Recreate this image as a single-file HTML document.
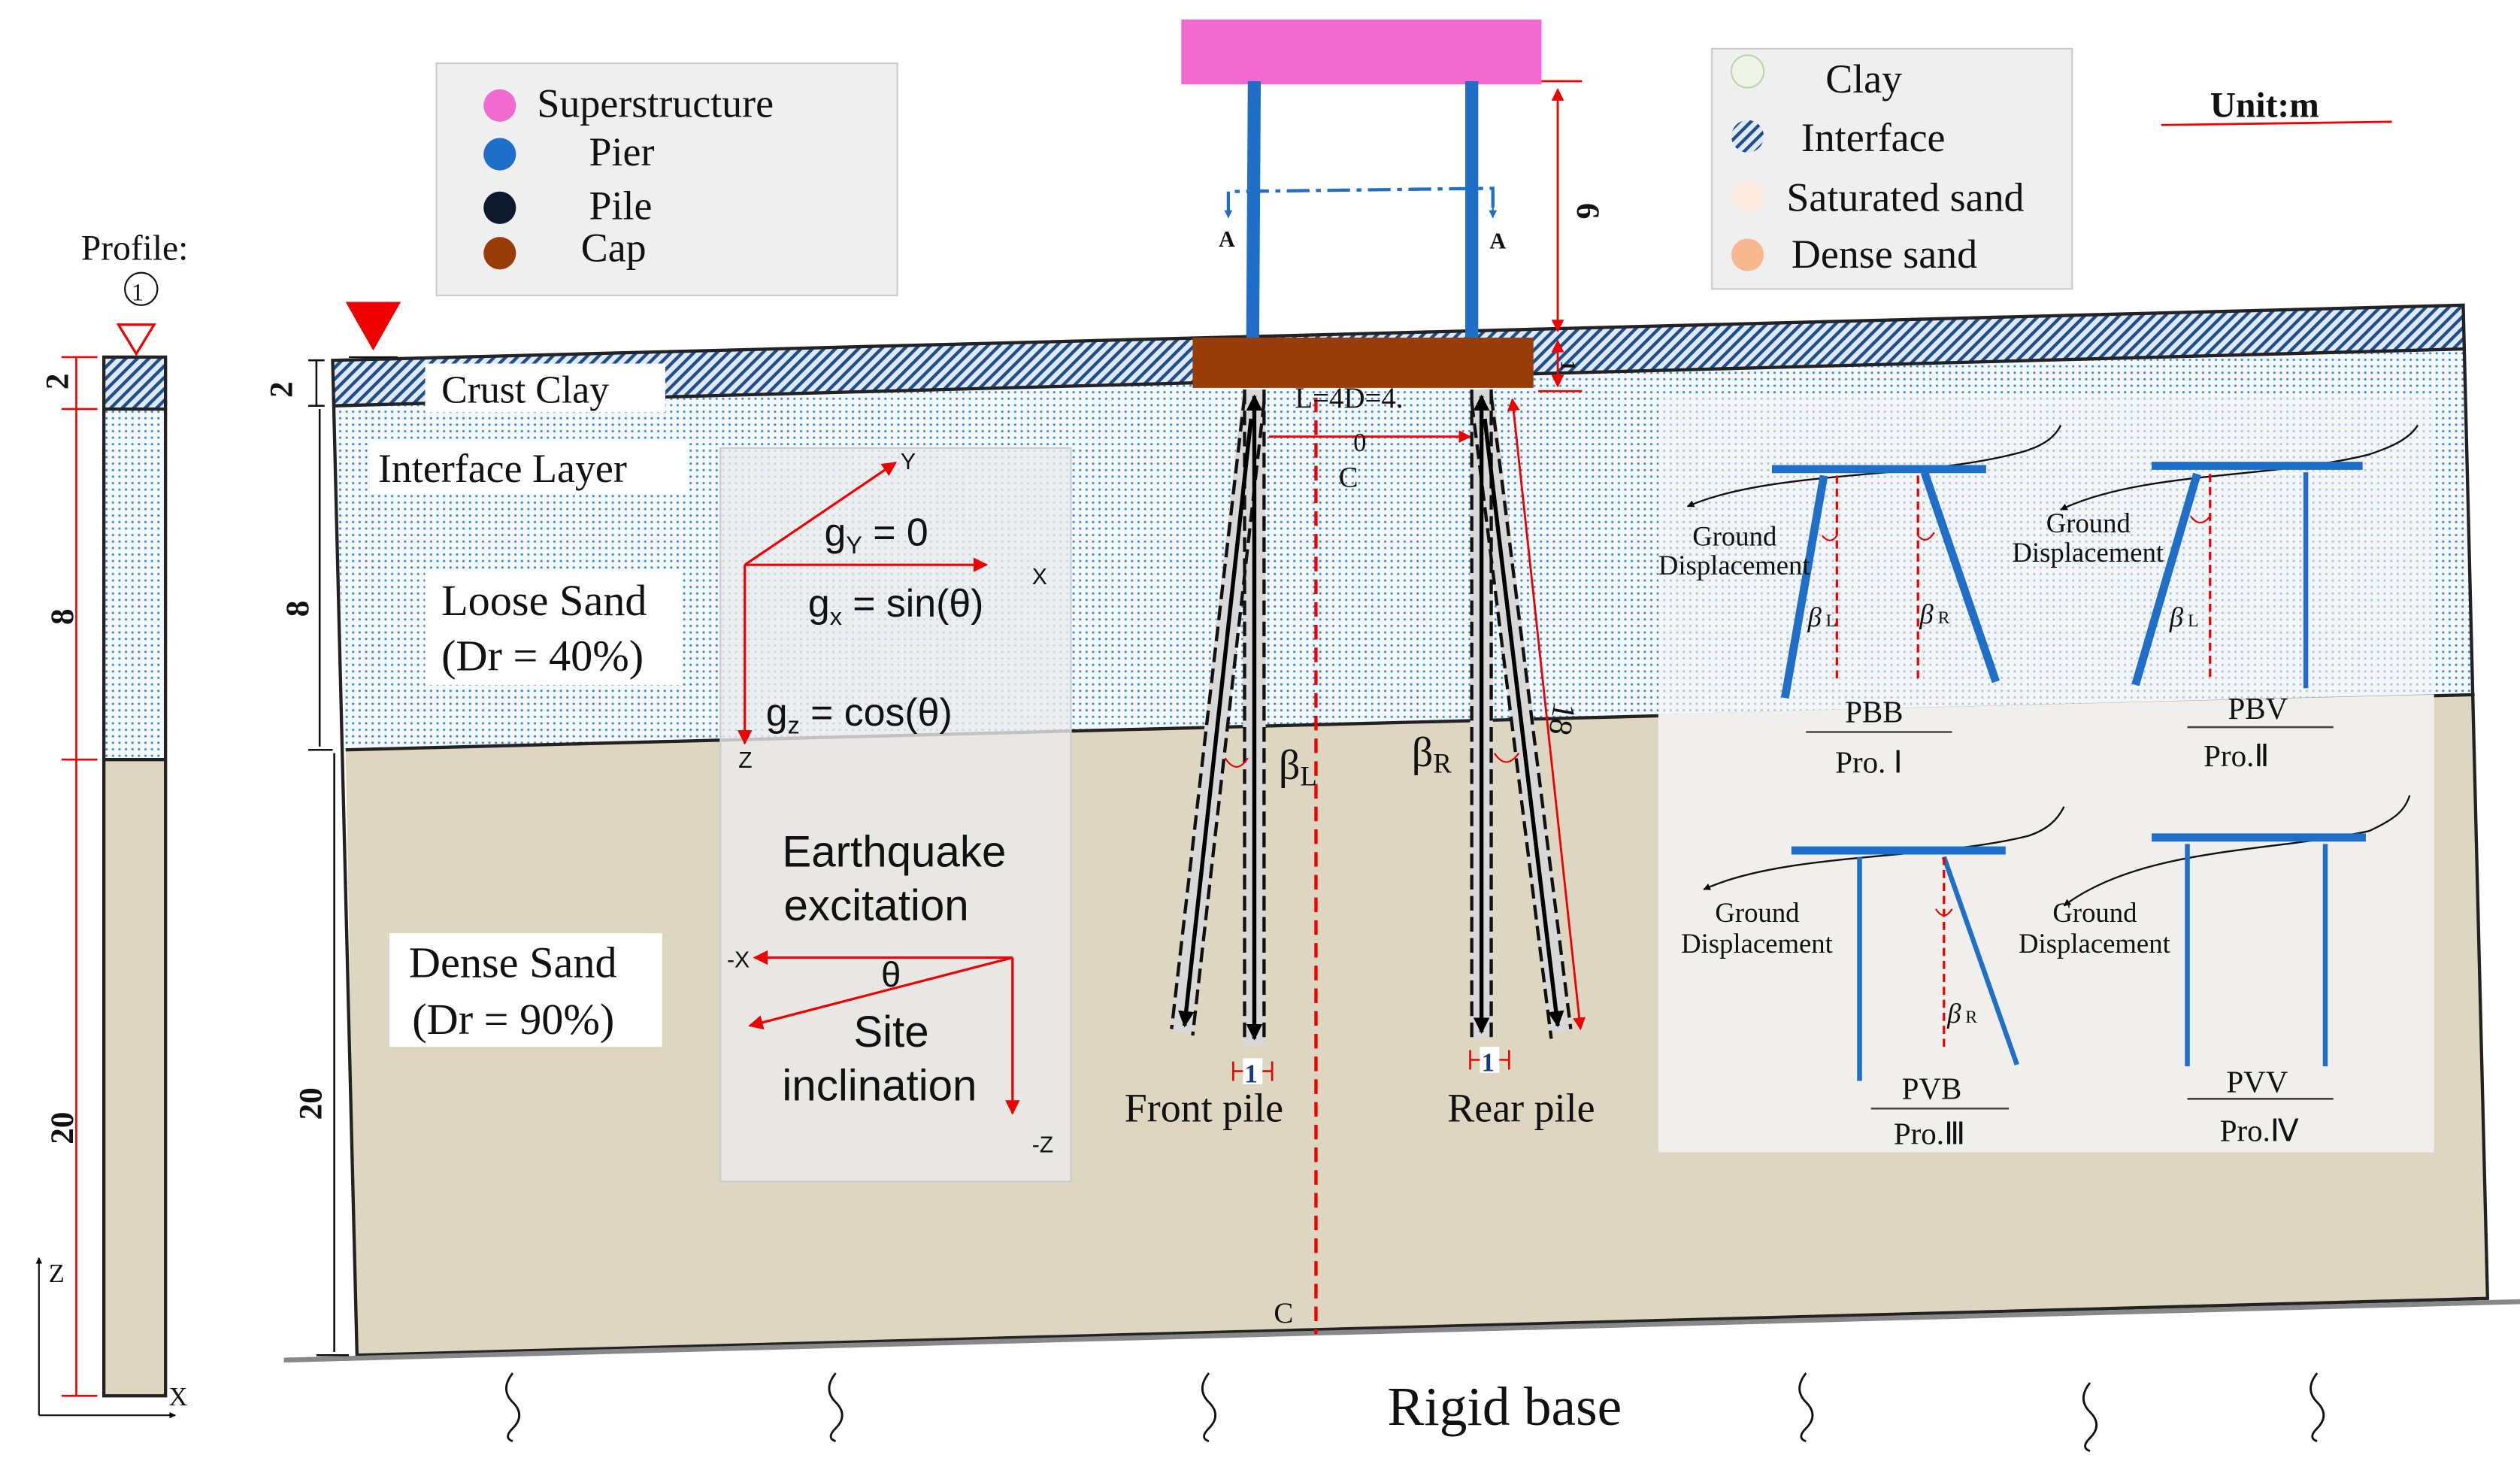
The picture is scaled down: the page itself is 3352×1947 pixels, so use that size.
<!DOCTYPE html>
<html><head><meta charset="utf-8"><style>
html,body{margin:0;padding:0;background:#fff}
svg{display:block}
text{font-family:"Liberation Serif",serif;fill:#111}
.s{font-family:"Liberation Sans",sans-serif}
</style></head><body>
<svg width="3352" height="1947" viewBox="0 0 1553 902" xmlns="http://www.w3.org/2000/svg">
<defs>
<pattern id="dots" width="4" height="4" patternUnits="userSpaceOnUse"><rect width="4" height="4" fill="#f4f9fd"/><rect x="1" y="1" width="1.3" height="1.3" fill="#3d86c8"/></pattern>
<pattern id="hatch" width="5" height="5" patternUnits="userSpaceOnUse" patternTransform="rotate(45)"><rect width="5" height="5" fill="#dfe8f3"/><rect width="2" height="5" fill="#1d4f8c"/></pattern>
<marker id="ar" viewBox="0 0 10 10" refX="9" refY="5" markerWidth="6" markerHeight="6" orient="auto-start-reverse"><path d="M0,0L10,5L0,10z" fill="#e00"/></marker>
<marker id="ab" viewBox="0 0 10 10" refX="9" refY="5" markerWidth="4" markerHeight="4" orient="auto-start-reverse"><path d="M0,0L10,5L0,10z" fill="#000"/></marker>
<marker id="abl" viewBox="0 0 10 10" refX="9" refY="5" markerWidth="5" markerHeight="5" orient="auto"><path d="M0,0L10,5L0,10z" fill="#1f6fc8"/></marker>
</defs>

<!-- soil block -->
<polygon points="213,462 1525,428 1533,800 220,835" fill="#ddd6c0"/>
<polygon points="206,250 1518,215 1525,428 213,462" fill="url(#dots)"/>
<polygon points="205,222 1518,188 1518,215 206,250" fill="url(#hatch)"/>
<line x1="206" y1="250" x2="1518" y2="215" stroke="#222" stroke-width="2"/>
<line x1="213" y1="462" x2="1525" y2="428" stroke="#222" stroke-width="2"/>
<polygon points="205,222 1518,188 1533,800 220,835" fill="none" stroke="#222" stroke-width="2"/>
<line x1="175" y1="838" x2="1553" y2="802" stroke="#888" stroke-width="3"/>

<!-- profile column -->
<rect x="64" y="252" width="38" height="216" fill="url(#dots)"/>
<rect x="64" y="220" width="38" height="32" fill="url(#hatch)"/>
<rect x="64" y="468" width="38" height="392" fill="#ddd6c0"/>
<rect x="64" y="220" width="38" height="640" fill="none" stroke="#222" stroke-width="2"/>
<line x1="64" y1="252" x2="102" y2="252" stroke="#222" stroke-width="2"/>
<line x1="64" y1="468" x2="102" y2="468" stroke="#222" stroke-width="2"/>
<polygon points="73,200 95,200 84,218" fill="none" stroke="#e00" stroke-width="1.5"/>
<text x="50" y="160" font-size="22">Profile:</text>
<circle cx="87" cy="178" r="10" fill="none" stroke="#111"/><text x="81" y="185" font-size="15">1</text>
<g stroke="#e00" stroke-width="1.2">
<line x1="47" y1="220" x2="47" y2="860"/>
<line x1="38" y1="220" x2="60" y2="220"/><line x1="38" y1="252" x2="60" y2="252"/><line x1="38" y1="468" x2="60" y2="468"/><line x1="38" y1="860" x2="60" y2="860"/>
</g>
<text transform="translate(42,240) rotate(-90)" font-size="20" font-weight="bold">2</text>
<text transform="translate(45,385) rotate(-90)" font-size="20" font-weight="bold">8</text>
<text transform="translate(45,705) rotate(-90)" font-size="20" font-weight="bold">20</text>
<line x1="24" y1="872" x2="24" y2="775" stroke="#111" marker-end="url(#ab)"/>
<line x1="24" y1="872" x2="108" y2="872" stroke="#111" marker-end="url(#ab)"/>
<text x="30" y="790" font-size="16">Z</text><text x="104" y="866" font-size="16">X</text>

<!-- left dims main -->
<polygon points="213,186 247,186 230,216" fill="#e00"/>
<line x1="215" y1="220" x2="245" y2="220" stroke="#111"/>
<g stroke="#111" stroke-width="1.2">
<line x1="190" y1="222" x2="200" y2="222"/><line x1="190" y1="250" x2="200" y2="250"/><line x1="190" y1="462" x2="205" y2="462"/><line x1="195" y1="835" x2="215" y2="835"/>
<line x1="195" y1="222" x2="195" y2="250"/><line x1="197" y1="252" x2="197" y2="460"/><line x1="206" y1="464" x2="206" y2="833"/>
</g>
<text transform="translate(180,245) rotate(-90)" font-size="20" font-weight="bold">2</text>
<text transform="translate(190,380) rotate(-90)" font-size="20" font-weight="bold">8</text>
<text transform="translate(198,690) rotate(-90)" font-size="20" font-weight="bold">20</text>

<!-- labels on soil -->
<rect x="262" y="224" width="148" height="30" fill="#fff"/>
<text x="272" y="248" font-size="24">Crust  Clay</text>
<rect x="228" y="272" width="196" height="32" fill="#fff"/>
<text x="233" y="297" font-size="25">Interface Layer</text>
<rect x="262" y="352" width="158" height="70" fill="#fff"/>
<text x="272" y="379" font-size="27">Loose Sand</text>
<text x="272" y="413" font-size="27">(Dr = 40%)</text>
<rect x="240" y="575" width="168" height="70" fill="#fff"/>
<text x="252" y="602" font-size="27">Dense Sand</text>
<text x="254" y="637" font-size="27">(Dr = 90%)</text>

<!-- excitation box -->
<rect x="444" y="276" width="216" height="452" fill="#ebebeb" fill-opacity="0.8" stroke="#ccc"/>
<g stroke="#e00" stroke-width="1.5">
<line x1="459" y1="348" x2="552" y2="285" marker-end="url(#ar)"/>
<line x1="459" y1="348" x2="608" y2="348" marker-end="url(#ar)"/>
<line x1="459" y1="348" x2="459" y2="458" marker-end="url(#ar)"/>
<line x1="624" y1="590" x2="465" y2="590" marker-end="url(#ar)"/>
<line x1="624" y1="590" x2="462" y2="632" marker-end="url(#ar)"/>
<line x1="624" y1="590" x2="624" y2="686" marker-end="url(#ar)"/>
</g>
<text class="s" x="555" y="289" font-size="14">Y</text>
<text class="s" x="636" y="360" font-size="14">X</text>
<text class="s" x="455" y="473" font-size="14">Z</text>
<text class="s" x="508" y="336" font-size="24">g<tspan font-size="15" dy="5">Y</tspan><tspan dy="-5"> = 0</tspan></text>
<text class="s" x="498" y="380" font-size="24">g<tspan font-size="15" dy="5">x</tspan><tspan dy="-5"> = sin(θ)</tspan></text>
<text class="s" x="472" y="447" font-size="24">g<tspan font-size="15" dy="5">z</tspan><tspan dy="-5"> = cos(θ)</tspan></text>
<text class="s" x="482" y="534" font-size="27">Earthquake</text>
<text class="s" x="483" y="567" font-size="27">excitation</text>
<text class="s" x="448" y="596" font-size="14">-X</text>
<text class="s" x="543" y="608" font-size="22">θ</text>
<text class="s" x="526" y="645" font-size="27">Site</text>
<text class="s" x="482" y="678" font-size="27">inclination</text>
<text class="s" x="636" y="710" font-size="14">-Z</text>

<!-- superstructure -->
<rect x="728" y="12" width="222" height="40" fill="#f06ad0"/>
<line x1="773" y1="50" x2="772" y2="208" stroke="#1f6fc8" stroke-width="8"/>
<line x1="907" y1="50" x2="907" y2="208" stroke="#1f6fc8" stroke-width="8"/>
<path d="M757,132 L757,118 L920,116 L920,132" fill="none" stroke="#1f6fc8" stroke-width="2" stroke-dasharray="14,4,3,4"/>
<line x1="757" y1="122" x2="757" y2="134" stroke="#1f6fc8" marker-end="url(#abl)"/>
<line x1="920" y1="122" x2="920" y2="134" stroke="#1f6fc8" marker-end="url(#abl)"/>
<text x="751" y="152" font-size="14" font-weight="bold">A</text>
<text x="918" y="153" font-size="14" font-weight="bold">A</text>
<rect x="735" y="208" width="210" height="31" fill="#983c08"/>
<g stroke="#e00" stroke-width="1.3">
<line x1="950" y1="50" x2="975" y2="50"/>
<line x1="960" y1="55" x2="960" y2="204" marker-start="url(#ar)" marker-end="url(#ar)"/>
<line x1="960" y1="210" x2="960" y2="238" marker-start="url(#ar)" marker-end="url(#ar)"/>
<line x1="948" y1="241" x2="975" y2="241"/>
<line x1="932" y1="246" x2="974" y2="634" marker-start="url(#ar)" marker-end="url(#ar)"/>
<line x1="782" y1="269" x2="906" y2="269" marker-end="url(#ar)"/>
<line x1="811" y1="245" x2="811" y2="822" stroke-dasharray="9,5" stroke-width="2"/>
</g>
<text transform="translate(972,125) rotate(90)" font-size="20" font-weight="bold">6</text>
<text transform="translate(962,222) rotate(90)" font-size="13" font-weight="bold">1</text>
<text transform="translate(958,432) rotate(100)" font-size="20">18</text>
<text x="798" y="251" font-size="18">L=4D=4.</text>
<text x="834" y="278" font-size="16">0</text>
<text x="825" y="300" font-size="18">C</text>
<text x="785" y="815" font-size="18">C</text>

<!-- piles -->
<g>
<g stroke-linecap="butt">
<line x1="773" y1="240" x2="773" y2="644" stroke="#d8d8d8" stroke-width="14"/>
<line x1="773" y1="240" x2="728" y2="636" stroke="#d8d8d8" stroke-width="14"/>
<line x1="913" y1="240" x2="913" y2="640" stroke="#d8d8d8" stroke-width="14"/>
<line x1="913" y1="240" x2="962" y2="636" stroke="#d8d8d8" stroke-width="14"/>
</g>
<g stroke="#111" stroke-width="2" stroke-dasharray="9,4" fill="none">
<line x1="767" y1="240" x2="767" y2="642"/><line x1="779" y1="240" x2="779" y2="642"/>
<line x1="767" y1="244" x2="722" y2="634"/><line x1="779" y1="248" x2="735" y2="638"/>
<line x1="907" y1="240" x2="907" y2="640"/><line x1="919" y1="240" x2="919" y2="640"/>
<line x1="907" y1="248" x2="956" y2="640"/><line x1="919" y1="244" x2="968" y2="634"/>
</g>
<g stroke="#000" stroke-width="2.5">
<line x1="773" y1="244" x2="773" y2="640" marker-start="url(#ab)" marker-end="url(#ab)"/>
<line x1="771" y1="258" x2="730" y2="632" marker-end="url(#ab)"/>
<line x1="913" y1="244" x2="913" y2="636" marker-start="url(#ab)" marker-end="url(#ab)"/>
<line x1="915" y1="258" x2="960" y2="632" marker-end="url(#ab)"/>
</g>
<path d="M755,467 Q762,478 769,467" fill="none" stroke="#e00"/>
<path d="M921,464 Q928,475 936,464" fill="none" stroke="#e00"/>
<text x="788" y="480" font-size="26">β<tspan font-size="17" dy="4">L</tspan></text>
<text x="870" y="472" font-size="26">β<tspan font-size="17" dy="4">R</tspan></text>
<g stroke="#e00" stroke-width="1.2"><line x1="760" y1="660" x2="784" y2="660"/><line x1="760" y1="654" x2="760" y2="666"/><line x1="784" y1="654" x2="784" y2="666"/>
<line x1="906" y1="653" x2="930" y2="653"/><line x1="906" y1="647" x2="906" y2="659"/><line x1="930" y1="647" x2="930" y2="659"/></g>
<rect x="766" y="652" width="12" height="16" fill="#fff"/><text x="767" y="667" font-size="16" font-weight="bold" style="fill:#1a3a80">1</text>
<rect x="912" y="645" width="12" height="16" fill="#fff"/><text x="913" y="660" font-size="16" font-weight="bold" style="fill:#1a3a80">1</text>
<text x="693" y="691" font-size="25">Front pile</text>
<text x="892" y="691" font-size="25">Rear pile</text>
</g>

<!-- legends -->
<rect x="269" y="39" width="284" height="143" fill="#efefef" stroke="#ccc"/>
<circle cx="308" cy="65" r="10" fill="#f06ad0"/><text x="331" y="72" font-size="25">Superstructure</text>
<circle cx="308" cy="95" r="10" fill="#1f6fc8"/><text x="363" y="102" font-size="25">Pier</text>
<circle cx="308" cy="128" r="10" fill="#0d1a2e"/><text x="363" y="135" font-size="25">Pile</text>
<circle cx="308" cy="156" r="10" fill="#983c08"/><text x="358" y="161" font-size="25">Cap</text>
<rect x="1055" y="30" width="222" height="148" fill="#efefef" stroke="#ccc"/>
<circle cx="1077" cy="44" r="10" fill="#eef5e8" stroke="#b8d8a8"/><text x="1125" y="57" font-size="25">Clay</text>
<circle cx="1077" cy="84" r="10" fill="url(#hatch)"/><text x="1110" y="93" font-size="25">Interface</text>
<circle cx="1077" cy="121" r="10" fill="#fdebe0"/><text x="1101" y="130" font-size="25">Saturated sand</text>
<circle cx="1077" cy="157" r="10" fill="#f7b890"/><text x="1104" y="165" font-size="25">Dense sand</text>
<text x="1362" y="72" font-size="22" font-weight="bold">Unit:m</text>
<line x1="1332" y1="77" x2="1474" y2="75" stroke="#e00" stroke-width="1.3"/>

<!-- inset -->
<polygon points="1022,245 1500,245 1500,710 1022,710" fill="#f1f1f1" fill-opacity="0.6"/>
<polygon points="1022,440 1500,428 1500,710 1022,710" fill="#f0efec"/>
<g fill="none" stroke="#111" stroke-width="1.1">
<path d="M1040,312 C1090,290 1180,295 1240,280 C1258,276 1266,270 1270,262" marker-start="url(#ab)"/>
<path d="M1270,314 C1320,290 1400,295 1460,280 C1475,275 1485,270 1490,262" marker-start="url(#ab)"/>
<path d="M1050,548 C1100,525 1190,530 1250,515 C1262,511 1268,505 1272,497" marker-start="url(#ab)"/>
<path d="M1272,558 C1320,522 1400,525 1460,512 C1475,505 1482,500 1485,490" marker-start="url(#ab)"/>
</g>
<g stroke="#1f6fc8" stroke-width="5">
<line x1="1092" y1="289" x2="1224" y2="289"/>
<line x1="1124" y1="293" x2="1100" y2="430"/><line x1="1186" y1="291" x2="1230" y2="420"/>
<line x1="1326" y1="287" x2="1456" y2="287"/>
<line x1="1354" y1="292" x2="1316" y2="422"/>
<line x1="1104" y1="524" x2="1236" y2="524"/>
<line x1="1326" y1="516" x2="1458" y2="516"/>
</g>
<g stroke="#1f6fc8" stroke-width="3">
<line x1="1421" y1="291" x2="1421" y2="424"/>
<line x1="1146" y1="528" x2="1146" y2="666"/><line x1="1198" y1="528" x2="1243" y2="656"/>
<line x1="1348" y1="520" x2="1348" y2="657"/><line x1="1433" y1="520" x2="1433" y2="657"/>
</g>
<g stroke="#e00" stroke-width="1.5" stroke-dasharray="5,3" fill="none">
<line x1="1132" y1="293" x2="1132" y2="420"/><line x1="1182" y1="293" x2="1182" y2="418"/>
<line x1="1362" y1="292" x2="1362" y2="418"/><line x1="1198" y1="528" x2="1198" y2="648"/>
</g>
<g stroke="#e00" fill="none" stroke-width="1">
<path d="M1123,330 Q1128,336 1132,330"/><path d="M1182,330 Q1187,336 1192,328"/><path d="M1350,318 Q1356,326 1362,318"/><path d="M1193,560 Q1198,568 1203,560"/>
</g>
<g font-size="17">
<text x="1043" y="336">Ground</text><text x="1022" y="354">Displacement</text>
<text x="1261" y="328">Ground</text><text x="1240" y="346">Displacement</text>
<text x="1057" y="568">Ground</text><text x="1036" y="587">Displacement</text>
<text x="1265" y="568">Ground</text><text x="1244" y="587">Displacement</text>
<text x="1114" y="386" font-style="italic">β<tspan font-size="11" font-style="normal"> L</tspan></text>
<text x="1183" y="384" font-style="italic">β<tspan font-size="11" font-style="normal"> R</tspan></text>
<text x="1337" y="386" font-style="italic">β<tspan font-size="11" font-style="normal"> L</tspan></text>
<text x="1200" y="630" font-style="italic">β<tspan font-size="11" font-style="normal"> R</tspan></text>
</g>
<g font-size="19">
<text x="1137" y="445">PBB</text><text x="1131" y="476">Pro. Ⅰ</text>
<text x="1373" y="443">PBV</text><text x="1358" y="472">Pro.Ⅱ</text>
<text x="1172" y="677">PVB</text><text x="1167" y="705">Pro.Ⅲ</text>
<text x="1372" y="673">PVV</text><text x="1368" y="703">Pro.Ⅳ</text>
</g>
<g stroke="#444" stroke-width="1.2">
<line x1="1113" y1="451" x2="1203" y2="451"/><line x1="1348" y1="448" x2="1438" y2="448"/>
<line x1="1153" y1="683" x2="1238" y2="683"/><line x1="1348" y1="677" x2="1438" y2="677"/>
</g>

<!-- rigid base -->
<text x="855" y="878" font-size="34">Rigid base</text>
<g fill="none" stroke="#111" stroke-width="1.3">
<path d="M316,846 q-8,10 0,18 q8,8 0,16 q-6,6 0,8" /><path d="M515,846 q-8,10 0,18 q8,8 0,16 q-6,6 0,8"/>
<path d="M745,846 q-8,10 0,18 q8,8 0,16 q-6,6 0,8"/><path d="M1113,846 q-8,10 0,18 q8,8 0,16 q-6,6 0,8"/>
<path d="M1288,852 q-8,10 0,18 q8,8 0,16 q-6,6 0,8"/><path d="M1428,846 q-8,10 0,18 q8,8 0,16 q-6,6 0,8"/>
</g>
</svg>
</body></html>
